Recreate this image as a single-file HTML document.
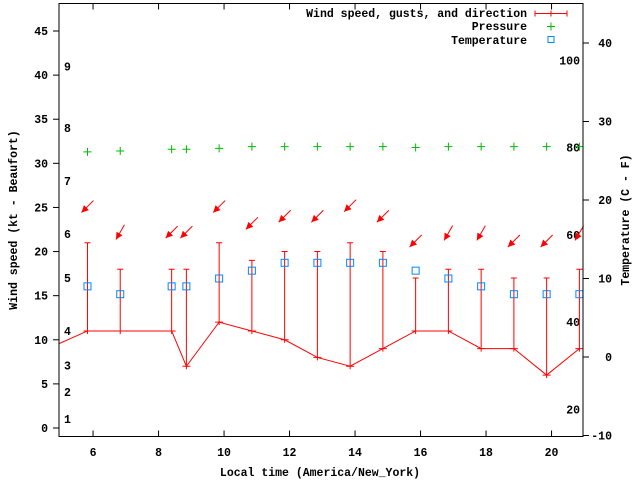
<!DOCTYPE html>
<html><head><meta charset="utf-8"><style>
body{margin:0;background:#fff}
svg{display:block;font-family:"Liberation Mono",monospace;font-weight:bold;font-size:11.5px}
</style></head><body>
<svg id="chart" width="640" height="480" viewBox="0 0 640 480" xmlns="http://www.w3.org/2000/svg">
<rect x="0" y="0" width="640" height="480" fill="#fff"/>
<g id="grid"></g>
<g id="marks"></g>
<rect x="59" y="3.5" width="524" height="433" fill="none" stroke="#000" stroke-width="1"/>
<text x="320" y="476" text-anchor="middle">Local time (America/New_York)</text>
<text transform="translate(17,220) rotate(-90)" text-anchor="middle">Wind speed (kt - Beaufort)</text>
<text transform="translate(629,220) rotate(-90)" text-anchor="middle">Temperature (C - F)</text>
<g>
<text x="527" y="17" text-anchor="end">Wind speed, gusts, and direction</text>
<path d="M535 13.5H567M535 10.5V16.5M567 10.5V16.5M551 10.5V16.5" stroke="#f00" fill="none"/>
<text x="527" y="30" text-anchor="end">Pressure</text>
<path d="M547 26.5H555M551 22.5V30.5" stroke="#0b0" fill="none"/>
<text x="527" y="44" text-anchor="end">Temperature</text>
<rect x="548" y="36.5" width="6" height="6" stroke="#08f" fill="none"/>
</g>
</svg>
<script>
const times=[5.83,6.83,8.4,8.85,9.85,10.85,11.85,12.85,13.85,14.85,15.85,16.85,17.85,18.85,19.85,20.85];
const wind=[11,11,11,7,12,11,10,8,7,9,11,11,9,9,6,9];
const gust=[21,18,18,18,21,19,20,20,21,20,17,18,18,17,17,18];
const tempC=[9,8,9,9,10,11,12,12,12,12,11,10,9,8,8,8];
const pressure=[31.3,31.4,31.6,31.6,31.7,31.9,31.9,31.9,31.9,31.9,31.8,31.9,31.9,31.9,31.9,31.9];
const arrowLevel=[25.1,22.2,22.2,22.2,25.1,23.2,24.0,24.0,25.2,24.0,21.2,22.1,22.1,21.2,21.2,22.1];
const windDir=[45,30,45,45,45,45,45,45,45,45,45,30,30,45,45,30];
const leadTime=4.5, leadWind=8.8;
const xTicks=[6,8,10,12,14,16,18,20];
const yTicks=[0,5,10,15,20,25,30,35,40,45];
const tTicks=[-10,0,10,20,30,40];
const beaufortLabels=["1","2","3","4","5","6","7","8","9"];
const beaufortVals=[1.0,4.1,7.1,11.0,17.0,22.0,28.0,34.0,41.0];
const fLabels=["20","40","60","80","100"];
const fVals=[20,40,60,80,100];

const NS="http://www.w3.org/2000/svg";
const X=v=>60.3+(v-5)*32.75;
const Y=v=>428-v*8.822;
const YT=v=>357-v*7.85;
const YF=v=>YT((v-32)*5/9);
const grid=document.getElementById('grid'),marks=document.getElementById('marks');
function mk(tag,at,parent){const e=document.createElementNS(NS,tag);for(const k in at)e.setAttribute(k,at[k]);parent.appendChild(e);return e;}

xTicks.forEach(t=>{
  const x=X(t);
  const p=mk('path',{d:`M${x} 436.5V430.5M${x} 3.5V9.5`,stroke:'#000'},grid);
  
  
  const l=mk('text',{x:x,y:456,'text-anchor':'middle'},grid);l.textContent=t;
  
  
});
yTicks.forEach(t=>{
  const y=Y(t);
  const p=mk('path',{d:`M53 ${y}H59`,stroke:'#000'},grid);
  
  
  const l=mk('text',{x:48,y:y+4,'text-anchor':'end'},grid);l.textContent=t;
  
  
});
tTicks.forEach(t=>{
  const y=YT(t);
  const p=mk('path',{d:`M583 ${y}H589`,stroke:'#000'},grid);
  
  
  const l=mk('text',{x:612,y:y+4,'text-anchor':'end'},grid);l.textContent=t;
  
  
});
beaufortLabels.forEach((b,i)=>{
  const l=mk('text',{x:64,y:Y(beaufortVals[i])+4},grid);l.textContent=b;
  
  
});
fLabels.forEach((f,i)=>{
  const l=mk('text',{x:580,y:YF(fVals[i])+4,'text-anchor':'end'},grid);l.textContent=f;
  
  
});

const cp=mk('clipPath',{id:'clip'},marks);mk('rect',{x:59,y:3.5,width:524,height:433},cp);
let d=`M${X(leadTime)} ${Y(leadWind)}`;
times.forEach((t,i)=>{d+=`L${X(t)} ${Y(wind[i])}`;});
const wl=mk('path',{d:d,stroke:'#f00',fill:'none','clip-path':'url(#clip)'},marks);


times.forEach((t,i)=>{
  const x=X(t),y0=Y(wind[i]),y1=Y(gust[i]);
  const e=mk('path',{d:`M${x} ${y0+3}V${y1}M${x-3} ${y1}H${x+3}M${x-4} ${y0}H${x+4}`,stroke:'#f00',fill:'none'},marks);
  
  
});
times.forEach((t,i)=>{
  const x=X(t),y=YT(tempC[i]);
  const r=mk('rect',{x:x-3.5,y:y-3.5,width:7,height:7,stroke:'#08f',fill:'none'},marks);
  
  
});
times.forEach((t,i)=>{
  const x=X(t),y=Y(pressure[i]);
  const p=mk('path',{d:`M${x-4} ${y}H${x+4}M${x} ${y-4}V${y+4}`,stroke:'#0b0',fill:'none'},marks);
  
  
});
times.forEach((t,i)=>{
  const cx=X(t),cy=Y(arrowLevel[i]);
  const a=(windDir[i]+180)*Math.PI/180;
  const dx=Math.sin(a),dy=-Math.cos(a),L=8.5;
  const hx=cx+dx*L,hy=cy+dy*L,tx=cx-dx*L,ty=cy-dy*L;
  const px=-dy,py=dx;
  const bx=hx-dx*7,by=hy-dy*7;
  const g=mk('g',{},marks);
  
  
  mk('path',{d:`M${tx} ${ty}L${hx} ${hy}`,stroke:'#f00','stroke-width':1},g);
  mk('path',{d:`M${hx} ${hy}L${bx+px*3.5} ${by+py*3.5}L${bx-px*3.5} ${by-py*3.5}Z`,fill:'#f00'},g);
});
</script>
</body></html>
